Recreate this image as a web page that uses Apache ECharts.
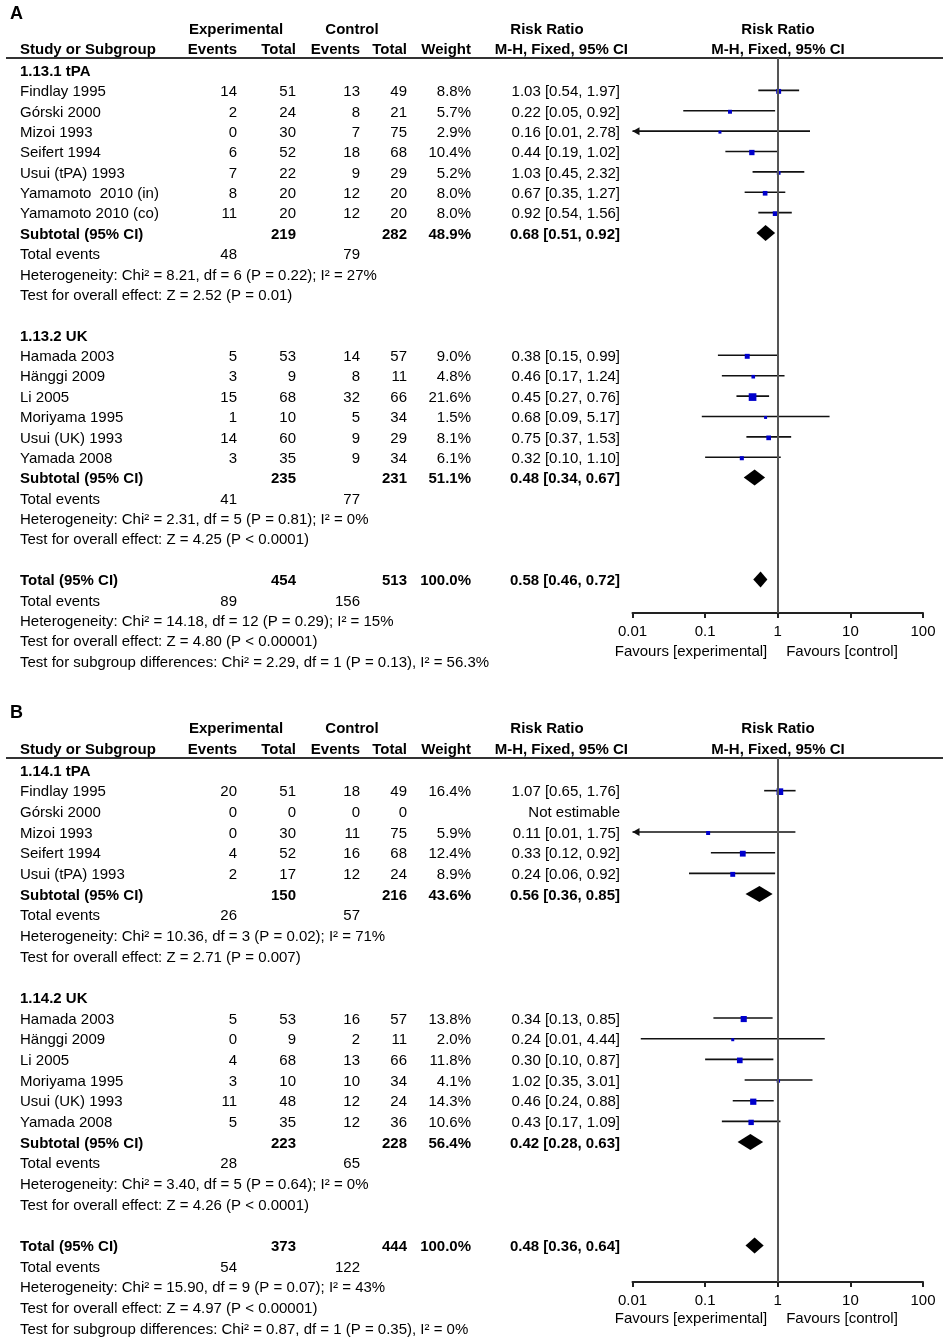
<!DOCTYPE html>
<html><head><meta charset="utf-8">
<script src="https://cdn.jsdelivr.net/npm/echarts@6/dist/echarts.min.js"></script>
<style>html,body{margin:0;padding:0;background:#fff}#c{width:943px;height:1339px}</style>
</head><body><div id="c"></div>
<script>
// ---------------- DATA ----------------
const tickLabels = ['0.01', '0.1', '1', '10', '100'];
const favourLabels = ['Favours [experimental]', 'Favours [control]'];
const headTop = ['Experimental', 'Control', 'Risk Ratio', 'Risk Ratio'];
const headBottom = ['Study or Subgroup', 'Events', 'Total', 'Events', 'Total', 'Weight', 'M-H, Fixed, 95% CI', 'M-H, Fixed, 95% CI'];

// Panel A — subgroup 1.13.1 tPA
const A1_name = '1.13.1 tPA';
const A1_study = ['Findlay 1995', 'Górski 2000', 'Mizoi 1993', 'Seifert 1994', 'Usui (tPA) 1993', 'Yamamoto  2010 (in)', 'Yamamoto 2010 (co)'];
const A1_expEv = [14, 2, 0, 6, 7, 8, 11];
const A1_expTot = [51, 24, 30, 52, 22, 20, 20];
const A1_ctlEv = [13, 8, 7, 18, 9, 12, 12];
const A1_ctlTot = [49, 21, 75, 68, 29, 20, 20];
const A1_weight = [8.8, 5.7, 2.9, 10.4, 5.2, 8.0, 8.0];
const A1_rr = [1.03, 0.22, 0.16, 0.44, 1.03, 0.67, 0.92];
const A1_lo = [0.54, 0.05, 0.009, 0.19, 0.45, 0.35, 0.54];
const A1_hi = [1.97, 0.92, 2.78, 1.02, 2.32, 1.27, 1.56];
const A1_sub = [219, 282, 48.9, 0.68, 0.51, 0.92];
const A1_events = [48, 79];
const A1_het = 'Heterogeneity: Chi² = 8.21, df = 6 (P = 0.22); I² = 27%';
const A1_test = 'Test for overall effect: Z = 2.52 (P = 0.01)';

// Panel A — subgroup 1.13.2 UK
const A2_name = '1.13.2 UK';
const A2_study = ['Hamada 2003', 'Hänggi 2009', 'Li 2005', 'Moriyama 1995', 'Usui (UK) 1993', 'Yamada 2008'];
const A2_expEv = [5, 3, 15, 1, 14, 3];
const A2_expTot = [53, 9, 68, 10, 60, 35];
const A2_ctlEv = [14, 8, 32, 5, 9, 9];
const A2_ctlTot = [57, 11, 66, 34, 29, 34];
const A2_weight = [9.0, 4.8, 21.6, 1.5, 8.1, 6.1];
const A2_rr = [0.38, 0.46, 0.45, 0.68, 0.75, 0.32];
const A2_lo = [0.15, 0.17, 0.27, 0.09, 0.37, 0.10];
const A2_hi = [0.99, 1.24, 0.76, 5.17, 1.53, 1.10];
const A2_sub = [235, 231, 51.1, 0.48, 0.34, 0.67];
const A2_events = [41, 77];
const A2_het = 'Heterogeneity: Chi² = 2.31, df = 5 (P = 0.81); I² = 0%';
const A2_test = 'Test for overall effect: Z = 4.25 (P < 0.0001)';

// Panel A — overall
const A_total = [454, 513, 100.0, 0.58, 0.46, 0.72];
const A_totalEvents = [89, 156];
const A_notes = ['Heterogeneity: Chi² = 14.18, df = 12 (P = 0.29); I² = 15%', 'Test for overall effect: Z = 4.80 (P < 0.00001)', 'Test for subgroup differences: Chi² = 2.29, df = 1 (P = 0.13), I² = 56.3%'];

// Panel B — subgroup 1.14.1 tPA
const B1_name = '1.14.1 tPA';
const B1_study = ['Findlay 1995', 'Górski 2000', 'Mizoi 1993', 'Seifert 1994', 'Usui (tPA) 1993'];
const B1_expEv = [20, 0, 0, 4, 2];
const B1_expTot = [51, 0, 30, 52, 17];
const B1_ctlEv = [18, 0, 11, 16, 12];
const B1_ctlTot = [49, 0, 75, 68, 24];
const B1_weight = [16.4, null, 5.9, 12.4, 8.9];
const B1_rr = [1.07, null, 0.11, 0.33, 0.24];
const B1_lo = [0.65, null, 0.008, 0.12, 0.06];
const B1_hi = [1.76, null, 1.75, 0.92, 0.92];
const B1_sub = [150, 216, 43.6, 0.56, 0.36, 0.85];
const B1_events = [26, 57];
const B1_het = 'Heterogeneity: Chi² = 10.36, df = 3 (P = 0.02); I² = 71%';
const B1_test = 'Test for overall effect: Z = 2.71 (P = 0.007)';

// Panel B — subgroup 1.14.2 UK
const B2_name = '1.14.2 UK';
const B2_study = ['Hamada 2003', 'Hänggi 2009', 'Li 2005', 'Moriyama 1995', 'Usui (UK) 1993', 'Yamada 2008'];
const B2_expEv = [5, 0, 4, 3, 11, 5];
const B2_expTot = [53, 9, 68, 10, 48, 35];
const B2_ctlEv = [16, 2, 13, 10, 12, 12];
const B2_ctlTot = [57, 11, 66, 34, 24, 36];
const B2_weight = [13.8, 2.0, 11.8, 4.1, 14.3, 10.6];
const B2_rr = [0.34, 0.24, 0.30, 1.02, 0.46, 0.43];
const B2_lo = [0.13, 0.013, 0.10, 0.35, 0.24, 0.17];
const B2_hi = [0.85, 4.44, 0.87, 3.01, 0.88, 1.09];
const B2_sub = [223, 228, 56.4, 0.42, 0.28, 0.63];
const B2_events = [28, 65];
const B2_het = 'Heterogeneity: Chi² = 3.40, df = 5 (P = 0.64); I² = 0%';
const B2_test = 'Test for overall effect: Z = 4.26 (P < 0.0001)';

// Panel B — overall
const B_total = [373, 444, 100.0, 0.48, 0.36, 0.64];
const B_totalEvents = [54, 122];
const B_notes = ['Heterogeneity: Chi² = 15.90, df = 9 (P = 0.07); I² = 43%', 'Test for overall effect: Z = 4.97 (P < 0.00001)', 'Test for subgroup differences: Chi² = 0.87, df = 1 (P = 0.35), I² = 0%'];

// ---------------- LAYOUT ----------------
const FONT = "'Liberation Sans', Arial, Helvetica, sans-serif";
const FS = 15;
const TEXT_DY = 1.6;
const COL = { label: 20, expEv: 237, expTot: 296, ctlEv: 360, ctlTot: 407, weight: 471, ci: 620,
  expHead: 236, ctlHead: 352, rrHead: 547, forestHead: 778, panel: 10, favL: 691, favR: 842 };

function grp(name, study, expEv, expTot, ctlEv, ctlTot, weight, rr, lo, hi, sub, events, het, test) {
  return { name, study, expEv, expTot, ctlEv, ctlTot, weight, rr, lo, hi, sub, events, het, test };
}
const panels = [
  { label: 'A', y0: 70, rowH: 20.38, textMin: -3.4, textMax: 30.5, lineRow: -0.59, axisRow: 26.64, favRow: 28.46,
    groups: [grp(A1_name, A1_study, A1_expEv, A1_expTot, A1_ctlEv, A1_ctlTot, A1_weight, A1_rr, A1_lo, A1_hi, A1_sub, A1_events, A1_het, A1_test),
             grp(A2_name, A2_study, A2_expEv, A2_expTot, A2_ctlEv, A2_ctlTot, A2_weight, A2_rr, A2_lo, A2_hi, A2_sub, A2_events, A2_het, A2_test)],
    total: A_total, totalEvents: A_totalEvents, notes: A_notes },
  { label: 'B', y0: 770, rowH: 20.67, textMin: -3.3, textMax: 27.5, lineRow: -0.58, axisRow: 24.77, favRow: 26.46,
    groups: [grp(B1_name, B1_study, B1_expEv, B1_expTot, B1_ctlEv, B1_ctlTot, B1_weight, B1_rr, B1_lo, B1_hi, B1_sub, B1_events, B1_het, B1_test),
             grp(B2_name, B2_study, B2_expEv, B2_expTot, B2_ctlEv, B2_ctlTot, B2_weight, B2_rr, B2_lo, B2_hi, B2_sub, B2_events, B2_het, B2_test)],
    total: B_total, totalEvents: B_totalEvents, notes: B_notes }
];

const ci = (rr, lo, hi) => rr.toFixed(2) + ' [' + lo.toFixed(2) + ', ' + hi.toFixed(2) + ']';

function build(P) {
  const texts = [], studies = [], diamonds = [];
  const T = (x, row, text, align, bold, size) => texts.push({ x, row, text: String(text), align: align || 'left', bold: !!bold, size: size || FS });
  // headers
  T(COL.panel, -2.83, P.label, 'left', true, 18);
  T(COL.expHead, -2.05, headTop[0], 'center', true);
  T(COL.ctlHead, -2.05, headTop[1], 'center', true);
  T(COL.rrHead, -2.05, headTop[2], 'center', true);
  T(COL.forestHead, -2.05, headTop[3], 'center', true);
  T(COL.label, -1.07, headBottom[0], 'left', true);
  T(COL.expEv, -1.07, headBottom[1], 'right', true);
  T(COL.expTot, -1.07, headBottom[2], 'right', true);
  T(COL.ctlEv, -1.07, headBottom[3], 'right', true);
  T(COL.ctlTot, -1.07, headBottom[4], 'right', true);
  T(COL.weight, -1.07, headBottom[5], 'right', true);
  T(628, -1.07, headBottom[6], 'right', true);
  T(COL.forestHead, -1.07, headBottom[7], 'center', true);
  let r = 0;
  P.groups.forEach(g => {
    T(COL.label, r, g.name, 'left', true); r++;
    g.study.forEach((s, i) => {
      T(COL.label, r, s);
      T(COL.expEv, r, g.expEv[i], 'right');
      T(COL.expTot, r, g.expTot[i], 'right');
      T(COL.ctlEv, r, g.ctlEv[i], 'right');
      T(COL.ctlTot, r, g.ctlTot[i], 'right');
      if (g.weight[i] != null) {
        T(COL.weight, r, g.weight[i].toFixed(1) + '%', 'right');
        T(COL.ci, r, ci(g.rr[i], g.lo[i], g.hi[i]), 'right');
        studies.push([g.lo[i], g.hi[i], g.rr[i], r, g.weight[i]]);
      } else {
        T(COL.ci, r, 'Not estimable', 'right');
      }
      r++;
    });
    const sb = g.sub;
    T(COL.label, r, 'Subtotal (95% CI)', 'left', true);
    T(COL.expTot, r, sb[0], 'right', true);
    T(COL.ctlTot, r, sb[1], 'right', true);
    T(COL.weight, r, sb[2].toFixed(1) + '%', 'right', true);
    T(COL.ci, r, ci(sb[3], sb[4], sb[5]), 'right', true);
    diamonds.push([sb[4], sb[5], sb[3], r]);
    r++;
    T(COL.label, r, 'Total events'); T(COL.expEv, r, g.events[0], 'right'); T(COL.ctlEv, r, g.events[1], 'right'); r++;
    T(COL.label, r, g.het); r++;
    T(COL.label, r, g.test); r++;
    r++;
  });
  const t = P.total;
  T(COL.label, r, 'Total (95% CI)', 'left', true);
  T(COL.expTot, r, t[0], 'right', true);
  T(COL.ctlTot, r, t[1], 'right', true);
  T(COL.weight, r, t[2].toFixed(1) + '%', 'right', true);
  T(COL.ci, r, ci(t[3], t[4], t[5]), 'right', true);
  diamonds.push([t[4], t[5], t[3], r]);
  r++;
  T(COL.label, r, 'Total events'); T(COL.expEv, r, P.totalEvents[0], 'right'); T(COL.ctlEv, r, P.totalEvents[1], 'right'); r++;
  P.notes.forEach(n => { T(COL.label, r, n); r++; });
  T(COL.favL, P.favRow, favourLabels[0], 'center');
  T(COL.favR, P.favRow, favourLabels[1], 'center');
  return { texts, studies, diamonds };
}

const grids = [], xAxes = [], yAxes = [], series = [];
panels.forEach((P, pi) => {
  const B = build(P);
  const gT = pi * 2, gF = pi * 2 + 1;
  grids.push({ left: 0, width: 943, top: P.y0 + P.textMin * P.rowH, height: (P.textMax - P.textMin) * P.rowH });
  grids.push({ left: 632.5, width: 290.5, top: P.y0 + P.lineRow * P.rowH, height: (P.axisRow - P.lineRow) * P.rowH });
  xAxes.push({ gridIndex: gT, type: 'value', min: 0, max: 943, show: false });
  xAxes.push({ gridIndex: gF, type: 'log', logBase: 10, min: 0.01, max: 100, position: 'bottom',
    axisLine: { show: true, onZero: false, lineStyle: { color: '#222', width: 2 } },
    axisTick: { show: true, length: 5, lineStyle: { color: '#222', width: 2 } },
    splitLine: { show: false }, minorTick: { show: false },
    axisLabel: { color: '#000', fontSize: FS, fontFamily: FONT, margin: 11,
      formatter: v => tickLabels[Math.round(Math.log10(v)) + 2] } });
  yAxes.push({ gridIndex: gT, type: 'value', inverse: true, min: P.textMin, max: P.textMax, show: false });
  yAxes.push({ gridIndex: gF, type: 'value', inverse: true, min: P.lineRow, max: P.axisRow, show: false });

  // text table
  series.push({ type: 'custom', xAxisIndex: gT, yAxisIndex: gT, silent: true, clip: false,
    data: B.texts.map(t => [t.x, t.row]), encode: { x: 0, y: 1 },
    renderItem: (params, api) => {
      const t = B.texts[params.dataIndex];
      const p = api.coord([api.value(0), api.value(1)]);
      return { type: 'text', x: p[0], y: p[1] + TEXT_DY,
        style: { text: t.text, fill: '#000', font: (t.bold ? 'bold ' : '') + t.size + 'px ' + FONT, align: t.align, verticalAlign: 'middle' } };
    } });
  // header rule
  series.push({ type: 'custom', xAxisIndex: gT, yAxisIndex: gT, silent: true, clip: false,
    data: [[6, P.lineRow, 943]], encode: { x: [0, 2], y: 1 },
    renderItem: (params, api) => {
      const a = api.coord([api.value(0), api.value(1)]), b = api.coord([api.value(2), api.value(1)]);
      return { type: 'line', shape: { x1: a[0], y1: a[1], x2: b[0], y2: b[1] }, style: { stroke: '#333', lineWidth: 2 } };
    } });
  // study CIs and squares
  series.push({ type: 'custom', xAxisIndex: gF, yAxisIndex: gF, silent: true, clip: false,
    data: B.studies, encode: { x: [0, 1, 2], y: 3 },
    renderItem: (params, api) => {
      const lo = api.value(0), hi = api.value(1), rr = api.value(2), row = api.value(3), w = api.value(4);
      const clipped = lo < 0.01;
      const pl = api.coord([clipped ? 0.01 : lo, row]), ph = api.coord([hi, row]), pc = api.coord([rr, row]);
      const s = Math.max(3, 1.65 * Math.sqrt(w));
      const children = [
        { type: 'line', shape: { x1: pl[0], y1: pl[1], x2: ph[0], y2: ph[1] }, style: { stroke: '#111', lineWidth: 1.6 } },
        { type: 'rect', shape: { x: pc[0] - s / 2, y: pc[1] + 1 - s / 2, width: s, height: s }, style: { fill: '#0000cc' } }
      ];
      if (clipped) {
        children.push({ type: 'polygon', shape: { points: [[pl[0], pl[1]], [pl[0] + 7, pl[1] - 4], [pl[0] + 7, pl[1] + 4]] }, style: { fill: '#111' } });
      }
      return { type: 'group', children };
    },
    markLine: { silent: true, symbol: ['none', 'none'], label: { show: false },
      lineStyle: { color: '#555', width: 2, type: 'solid' }, data: [{ xAxis: 1 }] } });
  // diamonds
  series.push({ type: 'custom', xAxisIndex: gF, yAxisIndex: gF, silent: true, clip: false,
    data: B.diamonds, encode: { x: [0, 1, 2], y: 3 },
    renderItem: (params, api) => {
      const row = api.value(3);
      const pl = api.coord([api.value(0), row]), ph = api.coord([api.value(1), row]), pc = api.coord([api.value(2), row]);
      const h = 8;
      return { type: 'polygon', shape: { points: [[pl[0], pl[1]], [pc[0], pc[1] - h], [ph[0], ph[1]], [pc[0], pc[1] + h]] }, style: { fill: '#000' } };
    } });
});

const chart = echarts.init(document.getElementById('c'), null, { renderer: 'canvas' });
chart.setOption({ animation: false, backgroundColor: '#fff', grid: grids, xAxis: xAxes, yAxis: yAxes, series });
</script></body></html>
